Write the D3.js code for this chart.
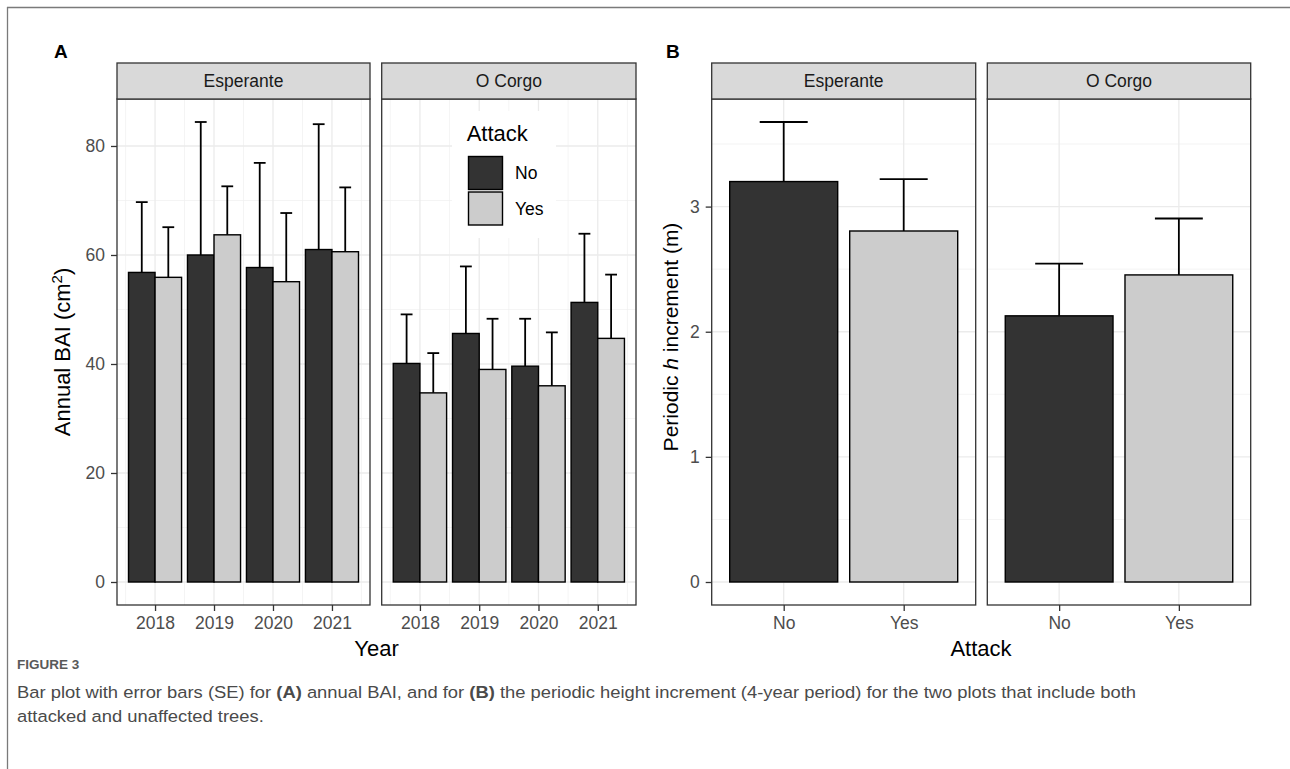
<!DOCTYPE html>
<html>
<head>
<meta charset="utf-8">
<script src="https://cdn.jsdelivr.net/npm/d3@7/dist/d3.min.js"></script>
<style>
  body { margin: 0; background: #fff; }
  svg text { font-family: "Liberation Sans", Arial, sans-serif; }
</style>
</head>
<body>
<svg id="fig" width="1290" height="769"></svg>
<script>
/**
  *   Figure 3: annual BAI (A) and periodic height increment (B), bars + SE.
  **/

var sites = ["Esperante", "O Corgo"];
var attack = ["No", "Yes"];
var years = [2018, 2019, 2020, 2021];

// Annual BAI (cm2), mean and SE per year.
var bai_esperante_no  = [56.8, 60.0, 57.7, 61.0];
var bai_esperante_yes = [55.9, 63.7, 55.1, 60.6];
var bai_corgo_no      = [40.1, 45.6, 39.6, 51.3];
var bai_corgo_yes     = [34.7, 39.0, 36.0, 44.7];
var se_esperante_no   = [12.9, 24.4, 19.2, 23.0];
var se_esperante_yes  = [9.2, 8.9, 12.6, 11.8];
var se_corgo_no       = [9.0, 12.3, 8.7, 12.6];
var se_corgo_yes      = [7.3, 9.3, 9.8, 11.7];

// Periodic h increment (m), [No, Yes].
var h_esperante = [3.20, 2.805];
var h_corgo     = [2.127, 2.454];
var hse_esperante = [0.476, 0.414];
var hse_corgo     = [0.417, 0.451];

var fill_colors = {No: "#333333", Yes: "#CCCCCC"};

// Build rows.
var bai_rows = [];
[[bai_esperante_no, bai_esperante_yes, se_esperante_no, se_esperante_yes],
 [bai_corgo_no, bai_corgo_yes, se_corgo_no, se_corgo_yes]].forEach(function(s, si){
  years.forEach(function(yr, i){
    bai_rows.push({site: sites[si], year: yr, attack: "No",  mean: s[0][i], se: s[2][i]});
    bai_rows.push({site: sites[si], year: yr, attack: "Yes", mean: s[1][i], se: s[3][i]});
  });
});

var h_rows = [];
[[h_esperante, hse_esperante], [h_corgo, hse_corgo]].forEach(function(s, si){
  attack.forEach(function(a, i){
    h_rows.push({site: sites[si], attack: a, pos: i + 1, mean: s[0][i], se: s[1][i]});
  });
});

var svg = d3.select("#fig");

// page frame (top and left edges only)
svg.append("line").attr("x1", 7).attr("x2", 1290).attr("y1", 7.5).attr("y2", 7.5)
  .attr("stroke", "#7a7a7a").attr("stroke-width", 1.3);
svg.append("line").attr("x1", 7.5).attr("x2", 7.5).attr("y1", 7).attr("y2", 769)
  .attr("stroke", "#7a7a7a").attr("stroke-width", 1.3);

var panel_top = 99, panel_bottom = 605, strip_top = 63;

// ggplot-like 5% expansion.
function expand(lo, hi){
  var d = (hi - lo) * 0.05;
  return [lo - d, hi + d];
}

var yA = d3.scaleLinear()
  .domain(expand(0, d3.max(bai_rows, function(d){ return d.mean + d.se; })))
  .range([panel_bottom, panel_top]);

var yB = d3.scaleLinear()
  .domain(expand(0, d3.max(h_rows, function(d){ return d.mean + d.se; })))
  .range([panel_bottom, panel_top]);

/**
  *  Draw one facet: grid, bars, error bars, border, strip, x axis.
  **/
function draw_facet(o){
  var g = svg.append("g");
  var x = o.x, y = o.y;
  var x0 = x.range()[0], x1 = x.range()[1];

  g.append("rect").attr("x", x0).attr("y", panel_top)
    .attr("width", x1 - x0).attr("height", panel_bottom - panel_top).attr("fill", "#fff");

  // minor grid
  g.selectAll(".hmin").data(o.yMinor).enter().append("line")
    .attr("x1", x0).attr("x2", x1)
    .attr("y1", function(d){ return y(d); }).attr("y2", function(d){ return y(d); })
    .attr("stroke", "#EFEFEF").attr("stroke-width", 0.7);
  g.selectAll(".vmin").data(o.xMinor).enter().append("line")
    .attr("y1", panel_top).attr("y2", panel_bottom)
    .attr("x1", function(d){ return x(d); }).attr("x2", function(d){ return x(d); })
    .attr("stroke", "#EFEFEF").attr("stroke-width", 0.7);
  // major grid
  g.selectAll(".hmaj").data(o.yMajor).enter().append("line")
    .attr("x1", x0).attr("x2", x1)
    .attr("y1", function(d){ return y(d); }).attr("y2", function(d){ return y(d); })
    .attr("stroke", "#EBEBEB").attr("stroke-width", 1.3);
  g.selectAll(".vmaj").data(o.xMajor).enter().append("line")
    .attr("y1", panel_top).attr("y2", panel_bottom)
    .attr("x1", function(d){ return x(d); }).attr("x2", function(d){ return x(d); })
    .attr("stroke", "#EBEBEB").attr("stroke-width", 1.3);

  if(o.legend) o.legend(g);

  // error bars (upper half only)
  var eb = g.selectAll(".eb").data(o.rows).enter().append("g")
    .attr("stroke", "#000").attr("stroke-width", 1.8).attr("fill", "none");
  eb.append("line")
    .attr("x1", function(d){ return x(o.center(d)); }).attr("x2", function(d){ return x(o.center(d)); })
    .attr("y1", function(d){ return y(d.mean); }).attr("y2", function(d){ return y(d.mean + d.se); });
  eb.append("line")
    .attr("x1", function(d){ return x(o.center(d) - o.cap / 2); })
    .attr("x2", function(d){ return x(o.center(d) + o.cap / 2); })
    .attr("y1", function(d){ return y(d.mean + d.se); }).attr("y2", function(d){ return y(d.mean + d.se); });

  // bars
  g.selectAll(".bar").data(o.rows).enter().append("rect")
    .attr("x", function(d){ return x(o.center(d) - o.bw / 2); })
    .attr("width", function(d){ return x(o.bw) - x(0); })
    .attr("y", function(d){ return y(d.mean); })
    .attr("height", function(d){ return y(0) - y(d.mean); })
    .attr("fill", function(d){ return fill_colors[d.attack]; })
    .attr("stroke", "#000").attr("stroke-width", 1.4);

  // panel border
  g.append("rect").attr("x", x0).attr("y", panel_top)
    .attr("width", x1 - x0).attr("height", panel_bottom - panel_top)
    .attr("fill", "none").attr("stroke", "#333333").attr("stroke-width", 1.3);

  // strip
  g.append("rect").attr("x", x0).attr("y", strip_top)
    .attr("width", x1 - x0).attr("height", panel_top - strip_top)
    .attr("fill", "#D9D9D9").attr("stroke", "#333333").attr("stroke-width", 1.3);
  g.append("text").attr("x", (x0 + x1) / 2).attr("y", (strip_top + panel_top) / 2)
    .attr("dy", "0.35em").attr("text-anchor", "middle")
    .attr("font-size", "17.5px").attr("fill", "#1A1A1A").text(o.label);

  // x axis
  var ax = g.append("g").attr("transform", "translate(0," + panel_bottom + ")")
    .call(d3.axisBottom(x).tickValues(o.xMajor).tickFormat(o.xFmt)
      .tickSize(6).tickPadding(6).tickSizeOuter(0));
  style_axis(ax);

  if(o.showY){
    var ay = g.append("g").attr("transform", "translate(" + x0 + ",0)")
      .call(d3.axisLeft(y).tickValues(o.yMajor).tickFormat(d3.format("~g"))
        .tickSize(6).tickPadding(6).tickSizeOuter(0));
    style_axis(ay);
  }
}

function style_axis(a){
  a.select(".domain").remove();
  a.selectAll(".tick line").attr("stroke", "#333333").attr("stroke-width", 1.3);
  a.selectAll(".tick text").attr("fill", "#4D4D4D").attr("font-size", "17.5px")
    .attr("font-family", "Liberation Sans, Arial, sans-serif");
}

// Panel A
var a_facets = [[117, 370], [381.7, 636]];
var a_domain = expand(years[0] - 0.45, years[years.length - 1] + 0.45);
var a_minor = years.map(function(y){ return y - 0.5; }).concat([years[years.length - 1] + 0.5]);

sites.forEach(function(site, si){
  var x = d3.scaleLinear().domain(a_domain).range(a_facets[si]);
  draw_facet({
    x: x, y: yA, label: site,
    rows: bai_rows.filter(function(d){ return d.site == site; }),
    center: function(d){ return d.year + (d.attack == "No" ? -0.225 : 0.225); },
    bw: 0.45, cap: 0.2,
    xMajor: years, xMinor: a_minor, xFmt: d3.format("d"),
    yMajor: [0, 20, 40, 60, 80], yMinor: [10, 30, 50, 70],
    showY: si == 0,
    legend: si == 1 ? draw_legend : null
  });
});

function draw_legend(g){
  var lg = g.append("g").attr("transform", "translate(452,111)");
  lg.append("rect").attr("width", 104).attr("height", 127).attr("fill", "#fff");
  lg.append("text").attr("x", 14.7).attr("y", 30).attr("font-size", "22px")
    .attr("fill", "#000").text("Attack");
  attack.forEach(function(a, i){
    lg.append("rect").attr("x", 16.5).attr("y", 45.5 + i * 35.5)
      .attr("width", 34).attr("height", 33)
      .attr("fill", fill_colors[a]).attr("stroke", "#000").attr("stroke-width", 1.4);
    lg.append("text").attr("x", 63).attr("y", 62 + i * 35.5).attr("dy", "0.35em")
      .attr("font-size", "17.5px").attr("fill", "#000").text(a);
  });
}

// Panel B
var b_facets = [[711.7, 975.7], [987.3, 1250.7]];
sites.forEach(function(site, si){
  var x = d3.scaleLinear().domain([0.4, 2.6]).range(b_facets[si]);
  draw_facet({
    x: x, y: yB, label: site,
    rows: h_rows.filter(function(d){ return d.site == site; }),
    center: function(d){ return d.pos; },
    bw: 0.9, cap: 0.4,
    xMajor: [1, 2], xMinor: [], xFmt: function(i){ return attack[i - 1]; },
    yMajor: [0, 1, 2, 3], yMinor: [0.5, 1.5, 2.5, 3.5],
    showY: si == 0
  });
});

// Axis titles
svg.append("text").attr("x", 376.5).attr("y", 656).attr("text-anchor", "middle")
  .attr("font-size", "22px").attr("fill", "#000").text("Year");
svg.append("text").attr("x", 981).attr("y", 656).attr("text-anchor", "middle")
  .attr("font-size", "22px").attr("fill", "#000").text("Attack");

var ya = svg.append("text").attr("transform", "translate(70,352) rotate(-90)")
  .attr("text-anchor", "middle").attr("font-size", "22px").attr("fill", "#000");
ya.append("tspan").text("Annual BAI (cm");
ya.append("tspan").attr("font-size", "15px").attr("baseline-shift", "super").text("2");
ya.append("tspan").text(")");

var yb = svg.append("text").attr("transform", "translate(678,337) rotate(-90)")
  .attr("text-anchor", "middle").attr("font-size", "21px").attr("fill", "#000");
yb.append("tspan").text("Periodic ");
yb.append("tspan").attr("font-style", "italic").text("h");
yb.append("tspan").text(" increment (m)");

// Panel letters
svg.append("text").attr("x", 54).attr("y", 58).attr("font-size", "19px")
  .attr("font-weight", "bold").text("A");
svg.append("text").attr("x", 666).attr("y", 58).attr("font-size", "19px")
  .attr("font-weight", "bold").text("B");

// Caption
svg.append("text").attr("x", 17).attr("y", 669).attr("font-size", "13.5px")
  .attr("font-family", "Open Sans, sans-serif").attr("font-weight", 600)
  .attr("fill", "#595959").text("FIGURE 3");

var cap_lines = [
  [["Bar plot with error bars (SE) for ", 0], ["(A)", 1], [" annual BAI, and for ", 0], ["(B)", 1],
   [" the periodic height increment (4-year period) for the two plots that include both", 0]],
  [["attacked and unaffected trees.", 0]]
];
var cap_nodes = cap_lines.map(function(parts, i){
  var t = svg.append("text").attr("font-size", "16.5px")
    .attr("font-family", "Open Sans, sans-serif").attr("fill", "#4a4a4a");
  parts.forEach(function(p){
    t.append("tspan").attr("font-weight", p[1] ? 700 : 300).text(p[0]);
  });
  return t;
});
var k = 1120 / cap_nodes[0].node().getComputedTextLength();
cap_nodes.forEach(function(t, i){
  t.attr("transform", "translate(17," + (698 + i * 23.5) + ") scale(" + k + ",1)");
});
</script>
</body>
</html>
